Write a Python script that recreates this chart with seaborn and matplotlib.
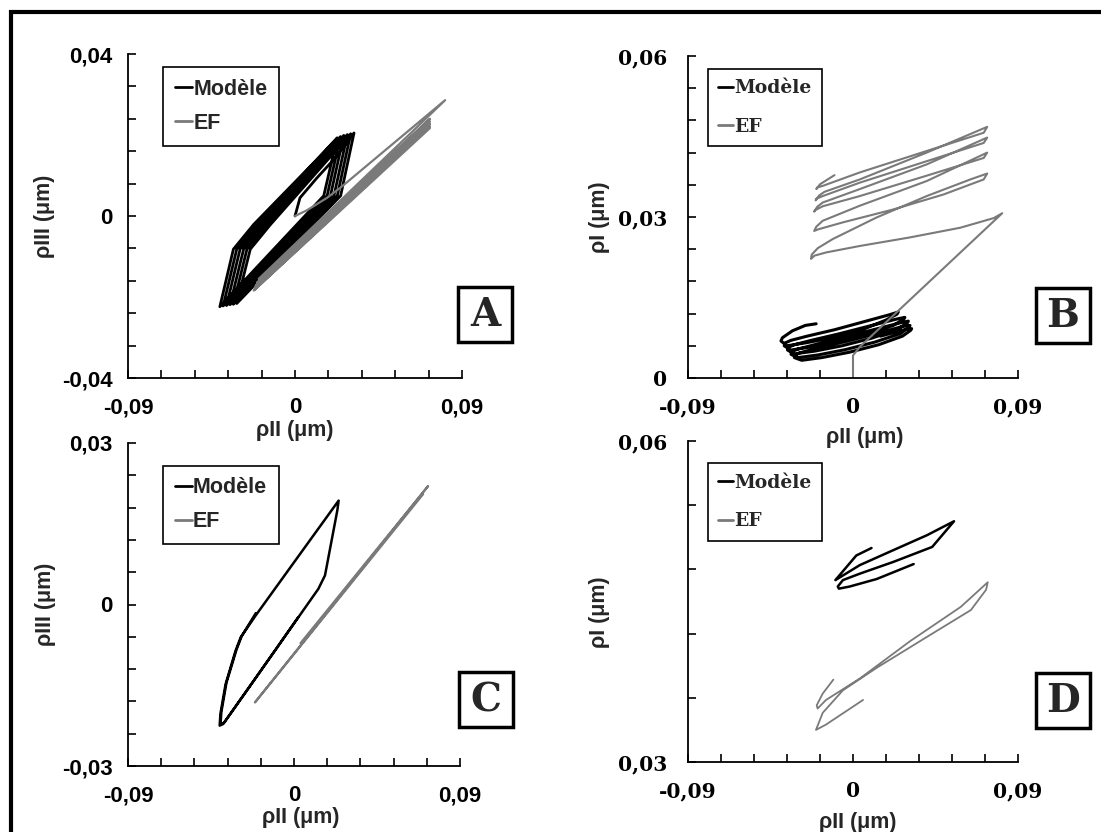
import numpy as np
import pandas as pd
import matplotlib
matplotlib.use('Agg')
import matplotlib.pyplot as plt
import seaborn as sns
from matplotlib.patches import Rectangle

# ---- Panel A : rhoII / rhoIII (tension-torsion) ----
a_model_x = [0.0, 0.0027, 0.0118, 0.0218, 0.0318, 0.0246, -0.0314, -0.0241, -0.0132,
             0.0300, 0.0228, -0.0332, -0.0259, -0.0150,
             0.0282, 0.0210, -0.0350, -0.0277, -0.0168,
             0.0263, 0.0191, -0.0369, -0.0296, -0.0187,
             0.0245, 0.0173, -0.0387, -0.0314, -0.0205,
             0.0227, 0.0155, -0.0405, -0.0332, -0.0223, 0.0215]
a_model_y = [0.0, 0.0045, 0.0094, 0.0144, 0.0205, 0.0050, -0.0216, -0.0082, -0.0021,
             0.0203, 0.0050, -0.0218, -0.0082, -0.0021,
             0.0201, 0.0050, -0.0219, -0.0082, -0.0021,
             0.0199, 0.0050, -0.0221, -0.0082, -0.0021,
             0.0196, 0.0050, -0.0222, -0.0082, -0.0021,
             0.0193, 0.0050, -0.0224, -0.0082, -0.0021, 0.0185]
a_ef_x = [0.0, 0.0064, 0.0173, 0.0245, 0.0809, -0.0195, 0.0727, -0.0205, 0.0727,
          -0.0212, 0.0727, -0.0218, 0.0727, -0.0222, 0.0727]
a_ef_y = [0.0, 0.0014, 0.0045, 0.0070, 0.0286, -0.0155, 0.0240, -0.0165, 0.0234,
          -0.0172, 0.0228, -0.0178, 0.0222, -0.0184, 0.0217]

# ---- Panel B : rhoII / rhoI ----
b_model_x = [-0.0201, -0.0260, -0.0330, -0.0385, -0.0393,
             -0.0360, -0.0250, -0.0100, 0.0050, 0.0180, 0.0240, 0.0247,
             0.0200, 0.0050, -0.0100, -0.0250, -0.0340, -0.0372, -0.0375,
             -0.0340, -0.0230, -0.0080, 0.0080, 0.0220, 0.0278, 0.0283,
             0.0240, 0.0080, -0.0080, -0.0230, -0.0320, -0.0354, -0.0357,
             -0.0320, -0.0210, -0.0060, 0.0100, 0.0240, 0.0297, 0.0302,
             0.0260, 0.0100, -0.0060, -0.0210, -0.0300, -0.0335, -0.0338,
             -0.0300, -0.0190, -0.0040, 0.0120, 0.0260, 0.0306, 0.0311,
             0.0270, 0.0120, -0.0040, -0.0190, -0.0290, -0.0317, -0.0320,
             -0.0280, -0.0170, -0.0020, 0.0140, 0.0270, 0.0315, 0.0320,
             0.0280, 0.0150]
b_model_y = [0.0101, 0.0098, 0.0088, 0.0075, 0.0069,
             0.0060, 0.0066, 0.0076, 0.0090, 0.0108, 0.0119, 0.0123,
             0.0118, 0.0104, 0.0090, 0.0078, 0.0070, 0.0065, 0.0060,
             0.0052, 0.0058, 0.0068, 0.0082, 0.0098, 0.0110, 0.0113,
             0.0110, 0.0096, 0.0082, 0.0070, 0.0062, 0.0057, 0.0052,
             0.0045, 0.0050, 0.0060, 0.0074, 0.0090, 0.0103, 0.0106,
             0.0103, 0.0089, 0.0075, 0.0062, 0.0054, 0.0049, 0.0044,
             0.0038, 0.0043, 0.0053, 0.0067, 0.0083, 0.0095, 0.0098,
             0.0096, 0.0082, 0.0068, 0.0056, 0.0047, 0.0042, 0.0038,
             0.0033, 0.0038, 0.0048, 0.0062, 0.0078, 0.0089, 0.0092,
             0.0090, 0.0078]
b_ef_x = [0.0, 0.0, 0.0037, 0.0814,
          0.0768, 0.0585, 0.0311, 0.0037, -0.0146, -0.0210, -0.0229,
          -0.0225, -0.0192, -0.0110, 0.0128, 0.0402, 0.0640, 0.0732,
          0.0713, 0.0494, 0.0219, -0.0055, -0.0190, -0.0212,
          -0.0200, -0.0165, 0.0037, 0.0402, 0.0732,
          0.0713, 0.0402, 0.0037, -0.0165, -0.0205, -0.0212,
          -0.0195, -0.0165, 0.0037, 0.0402, 0.0732,
          0.0713, 0.0402, 0.0037, -0.0165, -0.0200, -0.0204,
          -0.0185, -0.0155, 0.0037, 0.0402, 0.0732,
          0.0713, 0.0402, 0.0037, -0.0165, -0.0196, -0.0200,
          -0.0180, -0.0101]
b_ef_y = [0.0, 0.0042, 0.0058, 0.0307,
          0.0298, 0.0280, 0.0262, 0.0246, 0.0234, 0.0228, 0.0222,
          0.0230, 0.0242, 0.0259, 0.0299, 0.0339, 0.0370, 0.0381,
          0.0370, 0.0342, 0.0314, 0.0290, 0.0277, 0.0274,
          0.0282, 0.0293, 0.0321, 0.0367, 0.0420,
          0.0410, 0.0377, 0.0339, 0.0320, 0.0313, 0.0310,
          0.0319, 0.0327, 0.0352, 0.0398, 0.0448,
          0.0438, 0.0404, 0.0364, 0.0339, 0.0334, 0.0331,
          0.0340, 0.0347, 0.0370, 0.0420, 0.0468,
          0.0457, 0.0423, 0.0383, 0.0358, 0.0355, 0.0352,
          0.0361, 0.0378]

# ---- Panel C : rhoII / rhoIII ----
c_model_x = [0.0022, -0.0100, -0.0250, -0.0384, -0.0403, -0.0399, -0.0371, -0.0317,
             -0.0289, -0.0207, 0.0050, 0.0242, 0.0235, 0.0168, 0.0132, -0.0100,
             -0.0250, -0.0380, -0.0398, -0.0394, -0.0366, -0.0312, -0.0284, -0.0207]
c_model_y = [-0.0024, -0.0084, -0.0157, -0.0222, -0.0225, -0.0203, -0.0148, -0.0086,
             -0.0061, -0.0020, 0.0102, 0.0193, 0.0175, 0.0054, 0.0029, -0.0084,
             -0.0157, -0.0220, -0.0222, -0.0200, -0.0145, -0.0084, -0.0059, -0.0016]
c_ef_x = [0.0035, 0.0727, -0.0212, 0.0700]
c_ef_y = [-0.0072, 0.0220, -0.0182, 0.0205]

# ---- Panel D : rhoII / rhoI ----
d_model_x = [0.0101, 0.0018, -0.0096, 0.0037, 0.0220, 0.0404, 0.0551, 0.0432,
             0.0220, 0.0037, -0.0055, -0.0083, -0.0077, -0.0018, 0.0129, 0.0331]
d_model_y = [0.0500, 0.0493, 0.0470, 0.0484, 0.0498, 0.0512, 0.0525, 0.0501,
             0.0487, 0.0476, 0.0470, 0.0464, 0.0462, 0.0464, 0.0471, 0.0485]
d_ef_x = [-0.0107, -0.0165, -0.0198, -0.0193, -0.0147, 0.0037, 0.0312, 0.0588, 0.0716,
          0.0735, 0.0726, 0.0643, 0.0404, 0.0129, -0.0055, -0.0165, -0.0202, -0.0147, 0.0055]
d_ef_y = [0.0377, 0.0364, 0.0353, 0.0350, 0.0358, 0.0378, 0.0413, 0.0445, 0.0465,
          0.0468, 0.0461, 0.0442, 0.0417, 0.0388, 0.0367, 0.0346, 0.0330, 0.0335, 0.0358]

x_ticklabels = ['-0,09', '', '', '', '', '0', '', '', '', '', '0,09']

sns.set_style('ticks')
plt.rcParams['font.family'] = ['Liberation Sans', 'DejaVu Sans']
plt.rcParams['font.weight'] = 'bold'

W, H = 1101, 832
fig = plt.figure(figsize=(W / 100, H / 100), dpi=100)


def add_axes(left, top, right, bottom):
    ax = fig.add_axes([left / W, 1 - bottom / H, (right - left) / W, (bottom - top) / H])
    ax.patch.set_alpha(0)
    return ax


def draw_panel(ax, mx, my, ex, ey, lw_model, lw_ef):
    dm = pd.DataFrame({'x': mx, 'y': my})
    de = pd.DataFrame({'x': ex, 'y': ey})
    sns.lineplot(data=dm, x='x', y='y', sort=False, estimator=None, color='black',
                 lw=lw_model, ax=ax, label='Modèle')
    sns.lineplot(data=de, x='x', y='y', sort=False, estimator=None, color='#7a7a7a',
                 lw=lw_ef, ax=ax, label='EF')


def style_panel(ax, ylim, yticks, ylabels, ylabel, serif, xl_pos, yl_pos, leg_anchor):
    tfont = 'DejaVu Serif' if serif else 'Liberation Sans'
    ax.set_xlim(-0.09, 0.09)
    ax.set_ylim(*ylim)
    ax.set_xticks(np.linspace(-0.09, 0.09, 11))
    ax.set_xticklabels(x_ticklabels)
    ax.set_yticks(yticks)
    ax.set_yticklabels(ylabels)
    for lab in ax.get_xticklabels() + ax.get_yticklabels():
        lab.set_family(tfont)
        lab.set_fontweight('bold')
        lab.set_fontsize(14.5 if serif else 16)
    ax.tick_params(direction='in', length=6, width=1.2, colors='black')
    ax.tick_params(axis='x', pad=14)
    ax.tick_params(axis='y', pad=15 if serif else 11)
    sns.despine(ax=ax)
    for s in ['left', 'bottom']:
        ax.spines[s].set_linewidth(1.3)
        ax.spines[s].set_color('black')
    ax.set_xlabel('ρII (μm)', fontsize=15.5, fontweight='bold')
    ax.set_ylabel(ylabel, fontsize=15.5, fontweight='bold')
    ax.xaxis.label.set_va('center')
    ax.yaxis.label.set_va('center')
    ax.xaxis.set_label_coords(*xl_pos)
    ax.yaxis.set_label_coords(*yl_pos)
    leg = ax.legend(loc='upper left', bbox_to_anchor=leg_anchor, frameon=True, fancybox=False,
                    edgecolor='black', framealpha=1, handlelength=0.8, handletextpad=0.05,
                    labelspacing=1.1 if serif else 0.6, borderpad=0.55, borderaxespad=0,
                    prop={'family': tfont, 'weight': 'bold', 'size': 13.5 if serif else 15.5})
    leg.get_frame().set_linewidth(1.2)
    for h in leg.legend_handles:
        h.set_linewidth(2.0)


axA = add_axes(128, 54, 462, 378)
draw_panel(axA, a_model_x, a_model_y, a_ef_x, a_ef_y, 2.0, 1.6)
style_panel(axA, (-0.04, 0.04), np.linspace(-0.04, 0.04, 11),
            ['-0,04', '', '', '', '', '0', '', '', '', '', '0,04'], 'ρIII (μm)',
            False, (0.5, -0.162), (-0.25, 0.5), (0.105, 0.96))

axB = add_axes(688, 56, 1018, 378)
draw_panel(axB, b_model_x, b_model_y, b_ef_x, b_ef_y, 2.2, 1.5)
style_panel(axB, (0, 0.06), np.linspace(0, 0.06, 11),
            ['0', '', '', '', '', '0,03', '', '', '', '', '0,06'], 'ρI (μm)',
            True, (0.536, -0.185), (-0.267, 0.5), (0.06, 0.96))

axC = add_axes(128, 443, 460, 766)
draw_panel(axC, c_model_x, c_model_y, c_ef_x, c_ef_y, 1.8, 1.6)
style_panel(axC, (-0.03, 0.03), np.linspace(-0.03, 0.03, 11),
            ['-0,03', '', '', '', '', '0', '', '', '', '', '0,03'], 'ρIII (μm)',
            False, (0.52, -0.158), (-0.25, 0.5), (0.105, 0.93))

axD = add_axes(688, 441, 1018, 762)
draw_panel(axD, d_model_x, d_model_y, d_ef_x, d_ef_y, 1.8, 1.3)
style_panel(axD, (0.03, 0.06), np.linspace(0.03, 0.06, 6),
            ['0,03', '', '', '', '', '0,06'], 'ρI (μm)',
            True, (0.515, -0.19), (-0.267, 0.467), (0.06, 0.93))

# panel letters in framed boxes
for letter, (bx, by) in {'A': (458, 287), 'B': (1036, 288), 'C': (459, 672), 'D': (1036, 673)}.items():
    fig.patches.append(Rectangle((bx / W, 1 - (by + 55) / H), 54 / W, 55 / H,
                                 transform=fig.transFigure, fc='white', ec='black', lw=2.5))
    fig.text((bx + 27) / W, 1 - (by + 28) / H, letter, ha='center', va='center',
             fontsize=28, fontweight='bold', family='DejaVu Serif')

# outer frame
fig.patches.append(Rectangle((11 / W, -0.1), 1.2, 1.1 - 12 / H, transform=fig.transFigure,
                             fill=False, ec='black', lw=3))

fig.savefig('out.png', dpi=100)
